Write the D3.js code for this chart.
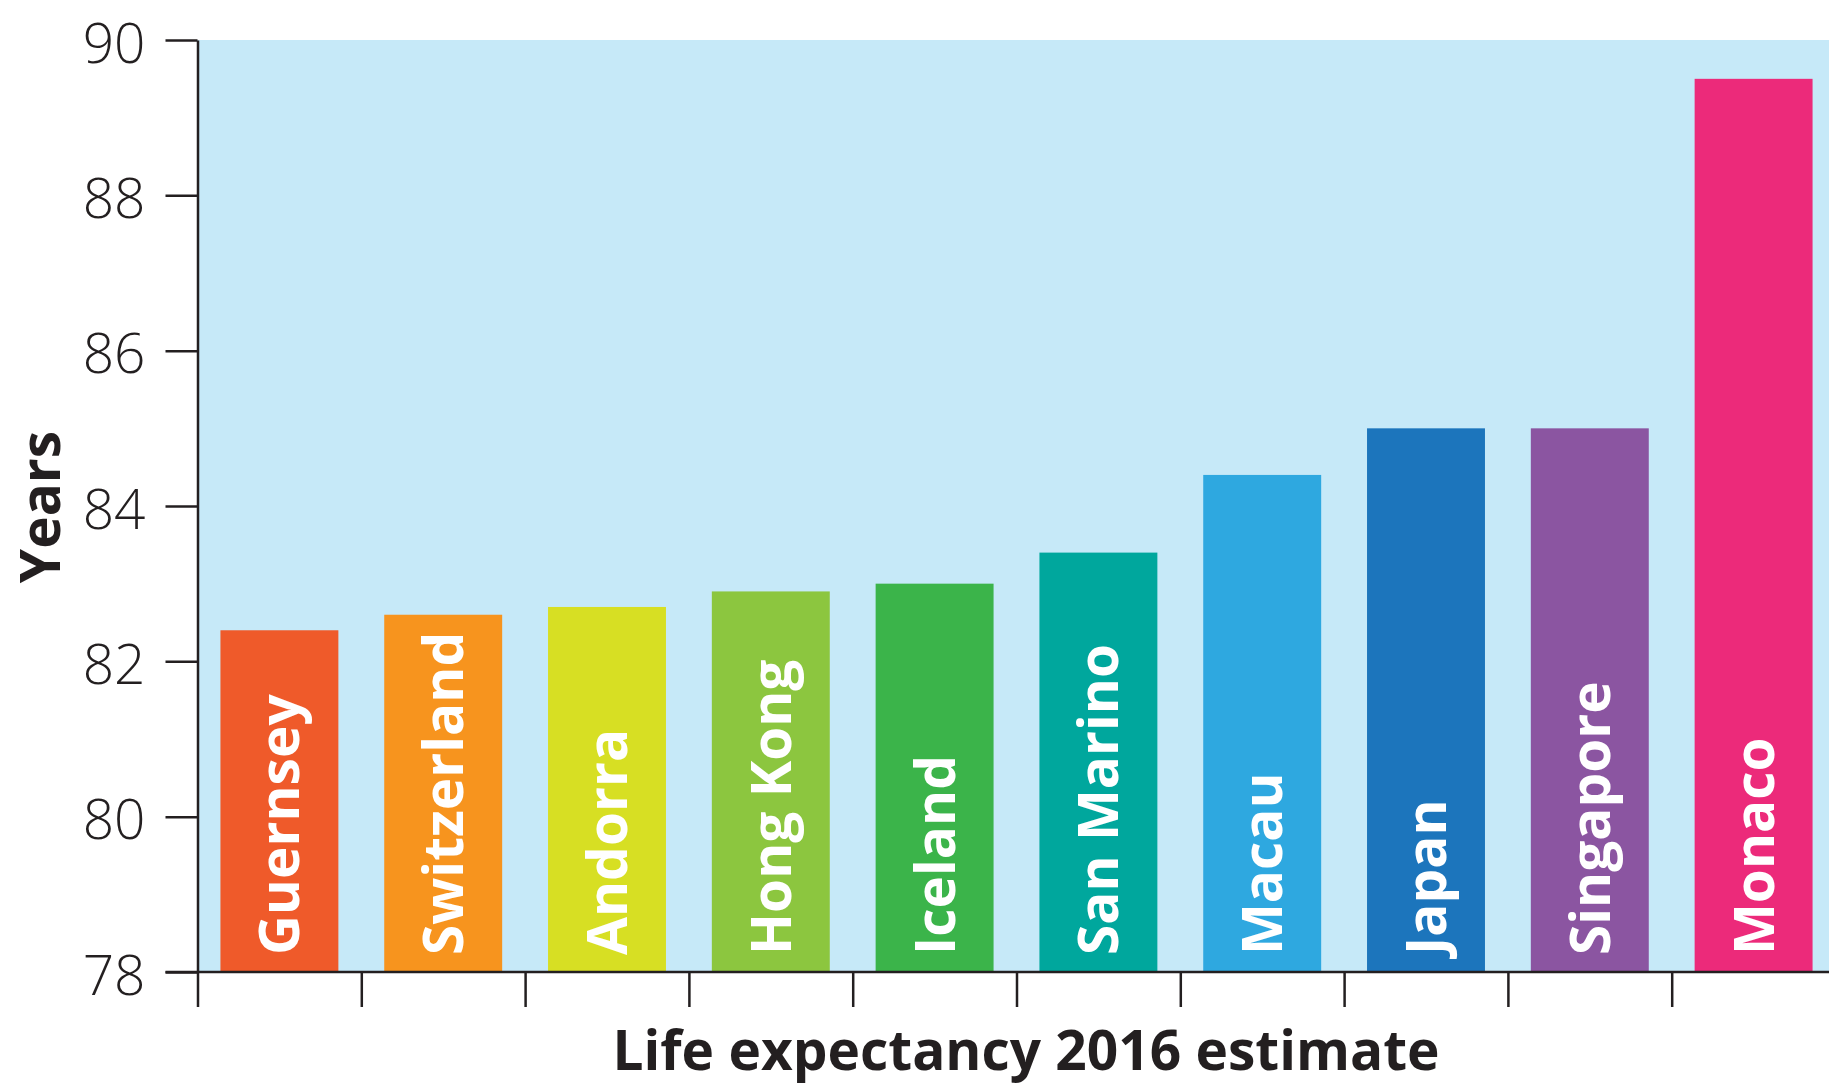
<!DOCTYPE html>
<html>
<head>
<meta charset="utf-8">
<script src="https://cdn.jsdelivr.net/npm/d3@7/dist/d3.min.js"></script>
<style>
  html, body { margin: 0; padding: 0; background: #ffffff; overflow: hidden; }
  svg { display: block; font-family: "Open Sans", "Noto Sans", sans-serif; }
</style>
</head>
<body>
<svg id="chart" width="1829" height="1085"></svg>
<script>
// Life expectancy at birth, 2016 estimates (years)
const countries = ["Guernsey", "Switzerland", "Andorra", "Hong Kong", "Iceland",
                   "San Marino", "Macau", "Japan", "Singapore", "Monaco"];
const lifeExpectancy = [82.4, 82.6, 82.7, 82.9, 83.0, 83.4, 84.4, 85.0, 85.0, 89.5];
const barColors = ["#ef5a2a", "#f7941e", "#d7df23", "#8cc63f", "#3bb44a",
                   "#00a79d", "#2ea8e0", "#1c75bc", "#8b55a1", "#ec2a7a"];
const yTicks = [78, 80, 82, 84, 86, 88, 90];
const yTitle = "Years";
const xTitle = "Life expectancy 2016 estimate";

(function draw() {
  const svg = d3.select("#chart");
  const W = 1829;
  const plotLeft = 197.5, plotTop = 40, plotBottom = 972;
  const step = 163.8;
  const plotRight = plotLeft + step * countries.length;
  const ink = "#231f20";

  const x = d3.scaleBand()
    .domain(countries)
    .range([plotLeft, plotRight])
    .paddingInner(0.28)
    .paddingOuter(0.14);

  const y = d3.scaleLinear().domain([78, 90]).range([plotBottom, plotTop]);

  // plot background
  svg.append("rect")
    .attr("x", plotLeft).attr("y", plotTop)
    .attr("width", plotRight - plotLeft).attr("height", plotBottom - plotTop)
    .attr("fill", "#c6e9f8");

  const data = countries.map((c, i) => ({ name: c, value: lifeExpectancy[i], color: barColors[i] }));

  // bars
  svg.append("g").selectAll("rect")
    .data(data)
    .join("rect")
    .attr("x", d => x(d.name))
    .attr("y", d => y(d.value))
    .attr("width", x.bandwidth())
    .attr("height", d => y(78) - y(d.value))
    .attr("fill", d => d.color);

  // country names, reading upward inside each bar
  svg.append("g").selectAll("text")
    .data(data)
    .join("text")
    .attr("transform", d => `translate(${x(d.name) + x.bandwidth() / 2 + 20},${y(78) - 17}) rotate(-90)`)
    .attr("text-anchor", "start")
    .attr("fill", "#ffffff")
    .attr("font-weight", 700)
    .attr("font-size", 55)
    .text(d => d.name);

  // y axis
  const yAxis = svg.append("g")
    .attr("transform", `translate(${plotLeft},0)`)
    .call(d3.axisLeft(y).tickValues(yTicks).tickSize(32).tickPadding(20).tickSizeOuter(0));
  yAxis.select(".domain").attr("stroke", ink).attr("stroke-width", 2.5);
  yAxis.selectAll(".tick line").attr("stroke", ink).attr("stroke-width", 2.5);
  yAxis.selectAll(".tick text")
    .attr("fill", ink)
    .attr("font-family", "'Open Sans', sans-serif")
    .attr("font-weight", 300)
    .attr("font-size", 55)
    .attr("dy", "0.4em");

  // x axis: ticks at the category boundaries
  const xEdges = d3.scaleLinear().domain([0, countries.length]).range([plotLeft, plotRight]);
  const xAxis = svg.append("g")
    .attr("transform", `translate(0,${plotBottom})`)
    .call(d3.axisBottom(xEdges).tickValues(d3.range(0, countries.length + 1))
      .tickFormat("").tickSize(35).tickSizeOuter(0));
  xAxis.select(".domain").remove();
  xAxis.selectAll(".tick line").attr("stroke", ink).attr("stroke-width", 2.5);
  xAxis.append("line")
    .attr("x1", plotLeft - 32).attr("x2", W)
    .attr("y1", 0).attr("y2", 0)
    .attr("stroke", ink).attr("stroke-width", 2.5);

  // axis titles
  svg.append("text")
    .attr("transform", `translate(60,507) rotate(-90)`)
    .attr("text-anchor", "middle")
    .attr("fill", ink)
    .attr("font-weight", 700)
    .attr("font-size", 55)
    .text(yTitle);

  svg.append("text")
    .attr("x", 1026).attr("y", 1070)
    .attr("text-anchor", "middle")
    .attr("fill", ink)
    .attr("font-weight", 700)
    .attr("font-size", 55)
    .text(xTitle);
})();
</script>
</body>
</html>
